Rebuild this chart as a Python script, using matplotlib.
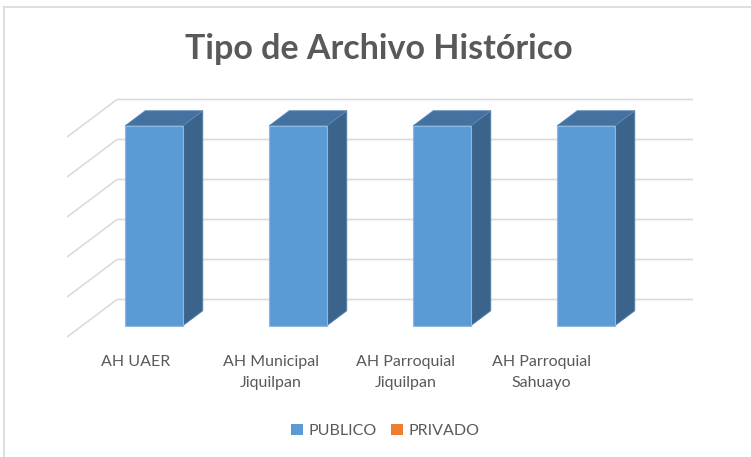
import matplotlib
matplotlib.use("Agg")
import matplotlib.pyplot as plt
from matplotlib.patches import Polygon, Patch
from matplotlib.lines import Line2D

# ---- data ----
categories = ["AH UAER", "AH Municipal\nJiquilpan", "AH Parroquial\nJiquilpan", "AH Parroquial\nSahuayo"]
series_names = ["PUBLICO", "PRIVADO"]
publico = [1, 1, 1, 1]
privado = [0, 0, 0, 0]
gridlines = [0, 0.2, 0.4, 0.6, 0.8, 1.0]
title = "Tipo de Archivo Histórico"

# ---- style ----
W, H = 751, 457
front_col = "#5B9BD5"
top_col = "#4472A0"
side_col = "#3A6489"
grid_col = "#D9D9D9"
text_col = "#595959"
font = "Lato"

# oblique depth vector (data units for full depth)
DX, DY = 50 / 144, 37.5 / 200
bar_w = 0.40
d0, d1 = 0.30, 0.70

fig = plt.figure(figsize=(W / 100, H / 100), dpi=100)
fig.patch.set_facecolor("white")

# chart border (top and left visible)
fig.add_artist(Line2D([4 / W, 4 / W], [0, 1 - 7 / H], color="#D9D9D9", lw=1.2, transform=fig.transFigure))
fig.add_artist(Line2D([4 / W, 1], [1 - 7 / H, 1 - 7 / H], color="#D9D9D9", lw=1.2, transform=fig.transFigure))

ax = fig.add_axes([67 / W, 120 / H, 626 / W, 237.5 / H])
n = len(categories)
ax.set_xlim(0, n + DX)
ax.set_ylim(0, 1 + DY)
ax.axis("off")

# gridlines: side wall diagonal + back wall horizontal
for g in gridlines:
    ax.plot([0, DX, n + DX], [g, g + DY, g + DY], color=grid_col, lw=1.1, zorder=1,
            solid_capstyle="butt", clip_on=False)

def proj(x, y, d):
    return (x + d * DX, y + d * DY)

for i, v in enumerate(publico):
    if v <= 0:
        continue
    xl = i + 0.5 - bar_w / 2
    xr = i + 0.5 + bar_w / 2
    front = [proj(xl, 0, d0), proj(xr, 0, d0), proj(xr, v, d0), proj(xl, v, d0)]
    side = [proj(xr, 0, d0), proj(xr, 0, d1), proj(xr, v, d1), proj(xr, v, d0)]
    top = [proj(xl, v, d0), proj(xr, v, d0), proj(xr, v, d1), proj(xl, v, d1)]
    ax.add_patch(Polygon(side, closed=True, facecolor=side_col, edgecolor="#5A86B0", lw=0.6, zorder=3))
    ax.add_patch(Polygon(top, closed=True, facecolor=top_col, edgecolor="#5A86B0", lw=0.6, zorder=3))
    ax.add_patch(Polygon(front, closed=True, facecolor=front_col, edgecolor="#8DB8E2", lw=0.8, zorder=4))

# category labels (Excel places them at a slightly narrower spacing)
label_step = 135 / 144
label_off = (136 - 67) / 144
for i, c in enumerate(categories):
    ax.text(label_off + i * label_step, -0.09, c, ha="center", va="top", fontsize=11.5,
            color=text_col, family=font, linespacing=1.65, clip_on=False)

fig.text(379 / W, 1 - 49 / H, title, ha="center", va="center", fontsize=24.5,
         fontweight="bold", color=text_col, family=font)

handles = [Patch(facecolor=front_col, edgecolor="none"), Patch(facecolor="#ED7D31", edgecolor="none")]
leg = fig.legend(handles, series_names, loc="center", bbox_to_anchor=(385 / W, 1 - 431 / H), ncol=2,
                 frameon=False, handlelength=0.75, handleheight=0.75, handletextpad=0.35,
                 columnspacing=0.9, prop={"family": font, "size": 11.5})
for t in leg.get_texts():
    t.set_color(text_col)

fig.savefig("out.png", dpi=100, facecolor="white")
